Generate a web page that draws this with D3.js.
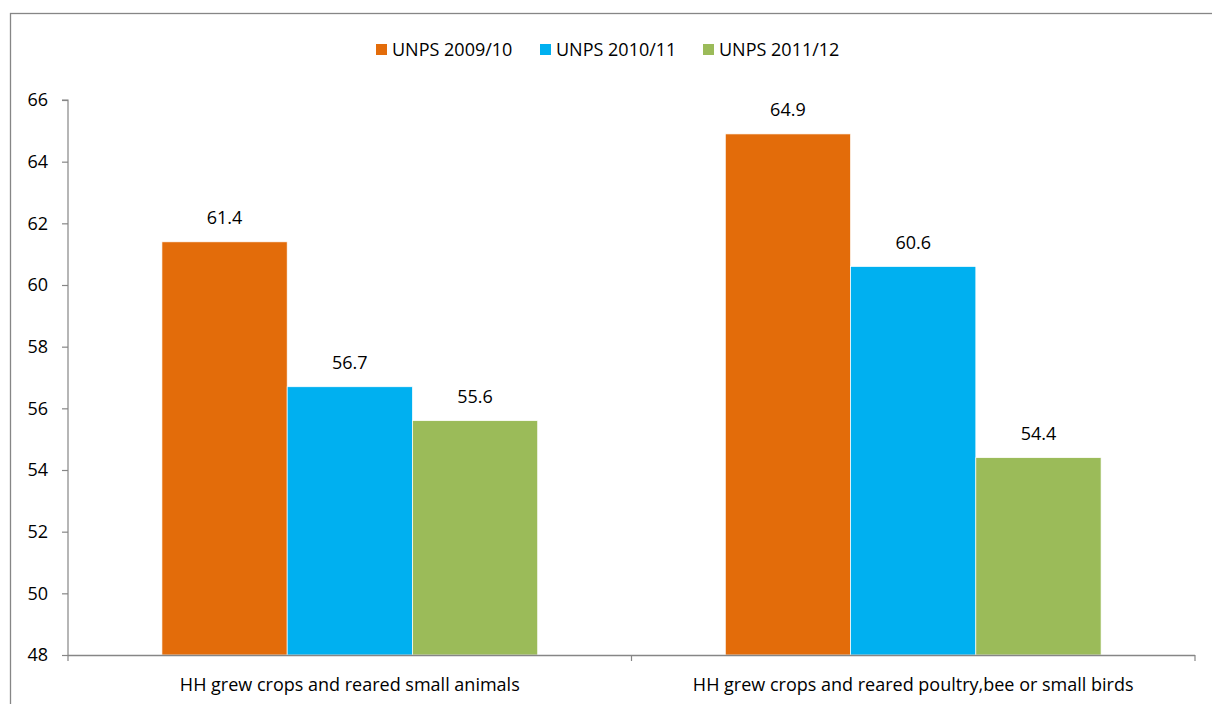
<!DOCTYPE html>
<html><head><meta charset="utf-8">
<script src="https://cdn.jsdelivr.net/npm/d3@7"></script>
<style>body{margin:0;background:#fff}svg{display:block}text{font-family:"Open Sans",sans-serif;fill:#000}</style>
</head><body>
<svg id="c" width="1212" height="704"></svg>
<script>
const categories = ["HH grew crops and reared small animals", "HH grew crops and reared poultry,bee or small birds"];
const seriesNames = ["UNPS 2009/10", "UNPS 2010/11", "UNPS 2011/12"];
const seriesColors = ["#E36C0A", "#00B0F0", "#9BBB59"];
const values2009 = [61.4, 64.9];
const values2010 = [56.7, 60.6];
const values2011 = [55.6, 54.4];
const yTicks = [48, 50, 52, 54, 56, 58, 60, 62, 64, 66];

const seriesValues = [values2009, values2010, values2011];
const FS = 18;
const svg = d3.select("#c");
const m = {l: 68, r: 1195, t: 100, b: 655};

svg.append("rect").attr("x", 10.5).attr("y", 13.5).attr("width", 1220).attr("height", 720)
  .attr("fill", "none").attr("stroke", "#868686").attr("stroke-width", 1.3);

const x0 = d3.scaleBand().domain(categories).range([m.l, m.r]).paddingInner(0.333).paddingOuter(0.1667);
const x1 = d3.scaleBand().domain(seriesNames).range([0, x0.bandwidth()]);
const y = d3.scaleLinear().domain([48, 66]).range([m.b, m.t]);

const gy = svg.append("g").attr("transform", `translate(${m.l},0)`)
  .call(d3.axisLeft(y).tickValues(yTicks).tickSize(6).tickPadding(14).tickFormat(d3.format("d")));
gy.select(".domain").attr("d", `M-6,${m.t}H0V${m.b + 6}`);
gy.selectAll("path,line").attr("stroke", "#868686").attr("stroke-width", 1.2);
gy.selectAll("text").attr("font-size", FS).style("font-family", "'Open Sans',sans-serif").attr("fill", "#000");

const groups = svg.append("g").selectAll("g").data(categories).join("g")
  .attr("transform", d => `translate(${x0(d)},0)`);
groups.each(function(cat, ci) {
  const g = d3.select(this);
  seriesNames.forEach((s, si) => {
    const v = seriesValues[si][ci];
    g.append("rect").attr("x", x1(s)).attr("y", y(v)).attr("width", x1.bandwidth())
      .attr("height", y(48) - y(v)).attr("fill", seriesColors[si])
      .attr("stroke", "#fff").attr("stroke-width", 0.7);
    g.append("text").attr("x", x1(s) + x1.bandwidth() / 2).attr("y", y(v) - 18)
      .attr("text-anchor", "middle").attr("font-size", FS).text(v.toFixed(1));
  });
});

// x axis
const xa = svg.append("g");
xa.append("line").attr("x1", m.l).attr("x2", m.r).attr("y1", m.b + 0.5).attr("y2", m.b + 0.5).attr("stroke", "#868686").attr("stroke-width", 1.3);
const bounds = [(m.l + m.r) / 2, m.r];
xa.selectAll("line.t").data(bounds).join("line").attr("class", "t")
  .attr("x1", d => d).attr("x2", d => d).attr("y1", m.b).attr("y2", m.b + 6).attr("stroke", "#868686").attr("stroke-width", 1.2);
xa.selectAll("text").data(categories).join("text")
  .attr("x", d => x0(d) + x0.bandwidth() / 2).attr("y", 691)
  .attr("text-anchor", "middle").attr("font-size", FS).text(d => d);

// legend
const legX = [376, 540, 703];
const leg = svg.append("g");
seriesNames.forEach((s, i) => {
  leg.append("rect").attr("x", legX[i]).attr("y", 44).attr("width", 11).attr("height", 11).attr("fill", seriesColors[i]);
  leg.append("text").attr("x", legX[i] + 16).attr("y", 56).attr("font-size", FS).text(s);
});
</script>
</body></html>
